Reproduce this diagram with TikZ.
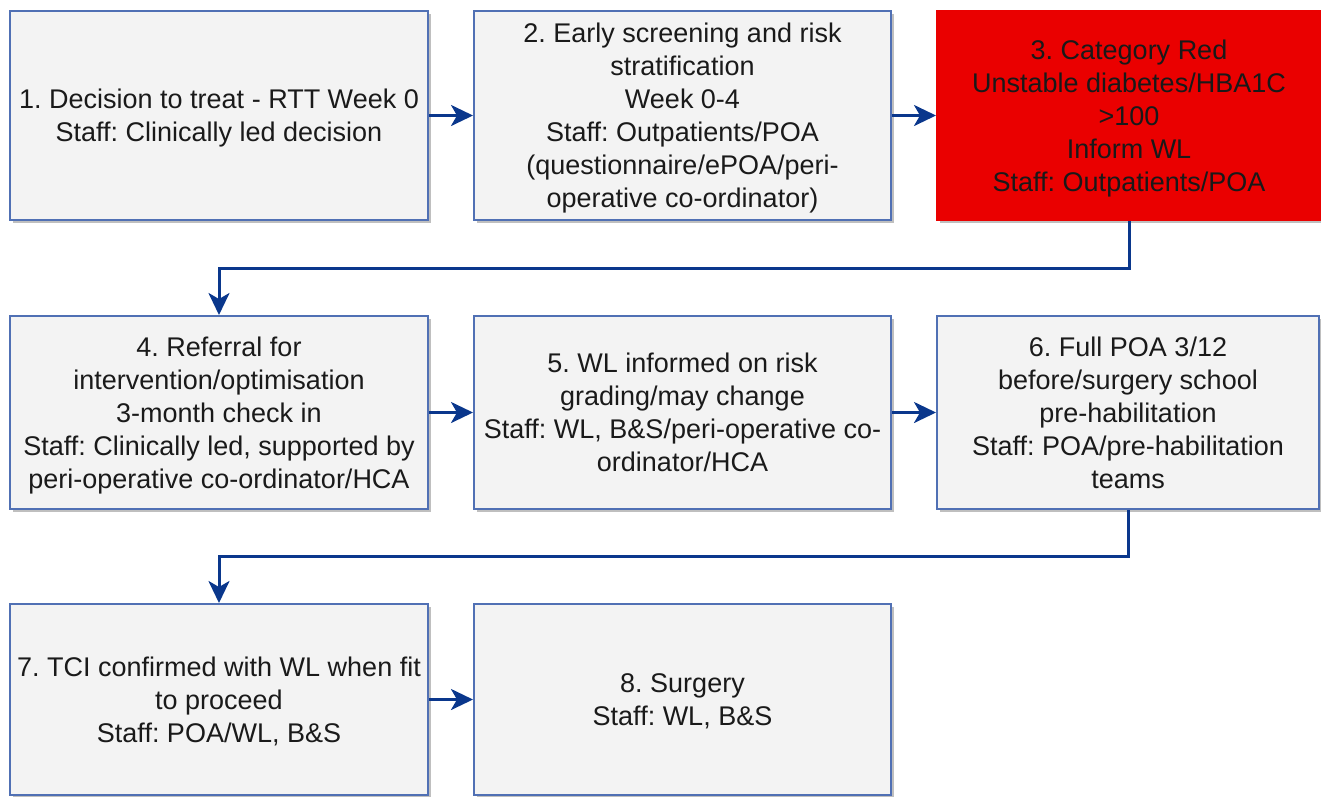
\documentclass[tikz,border=0pt]{standalone}
\usepackage{fontspec}
\setmainfont{Liberation Sans}
\usetikzlibrary{arrows.meta,shadows}
\definecolor{boxline}{RGB}{80,112,180}
\definecolor{boxfill}{RGB}{243,243,243}
\definecolor{flow}{RGB}{10,55,140}
\definecolor{alertred}{RGB}{234,0,0}
\definecolor{ink}{RGB}{26,26,26}
\tikzset{
  stage/.style={draw=boxline, line width=2pt, fill=boxfill, align=center,
    text=ink, inner sep=0pt, font=\frenchspacing\fontsize{27}{33}\selectfont,
    text depth=-3pt,
    drop shadow={shadow xshift=3pt, shadow yshift=-3pt, fill=black, opacity=0.25}},
  redstage/.style={stage, draw=alertred, fill=alertred, text=black!90},
  link/.style={draw=flow, line width=3pt,
    -{Stealth[length=22pt, width=21pt, inset=6pt]}}
}
\begin{document}
\begin{tikzpicture}[x=1pt, y=-1pt]
\useasboundingbox (0,0) rectangle (1321,796);

% first row
\node[stage, minimum width=418pt, minimum height=209pt] (s1) at (219,115.5)
  {1. Decision to treat - RTT Week 0\\Staff: Clinically led decision};
\node[stage, minimum width=417pt, minimum height=209pt] (s2) at (682.5,115.5)
  {2. Early screening and risk\\stratification\\Week 0-4\\Staff: Outpatients/POA\\(questionnaire/ePOA/peri-\\operative co-ordinator)};
\node[redstage, minimum width=384pt, minimum height=209pt] (s3) at (1129,115.5)
  {3. Category Red\\Unstable diabetes/HBA1C\\>100\\Inform WL\\Staff: Outpatients/POA};

% second row
\node[stage, minimum width=418pt, minimum height=193pt] (s4) at (219,412.5)
  {4. Referral for\\intervention/optimisation\\3-month check in\\Staff: Clinically led, supported by\\peri-operative co-ordinator/HCA};
\node[stage, minimum width=417pt, minimum height=193pt] (s5) at (682.5,412.5)
  {5. WL informed on risk\\grading/may change\\Staff: WL, B\&S/peri-operative co-\\ordinator/HCA};
\node[stage, minimum width=382pt, minimum height=193pt] (s6) at (1128,412.5)
  {6. Full POA 3/12\\before/surgery school\\pre-habilitation\\Staff: POA/pre-habilitation\\teams};

% third row
\node[stage, minimum width=418pt, minimum height=191pt] (s7) at (219,699.5)
  {7. TCI confirmed with WL when fit\\to proceed\\Staff: POA/WL, B\&S};
\node[stage, minimum width=417pt, minimum height=191pt] (s8) at (682.5,699.5)
  {8. Surgery\\Staff: WL, B\&S};

% connectors
\draw[link] (s1.east) -- (s2.west);
\draw[link] (s2.east) -- (s3.west);
\draw[link] (s3.south) |- (219,268) -- (s4.north);
\draw[link] (s4.east) -- (s5.west);
\draw[link] (s5.east) -- (s6.west);
\draw[link] (s6.south) |- (219,556) -- (s7.north);
\draw[link] (s7.east) -- (s8.west);
\end{tikzpicture}
\end{document}
